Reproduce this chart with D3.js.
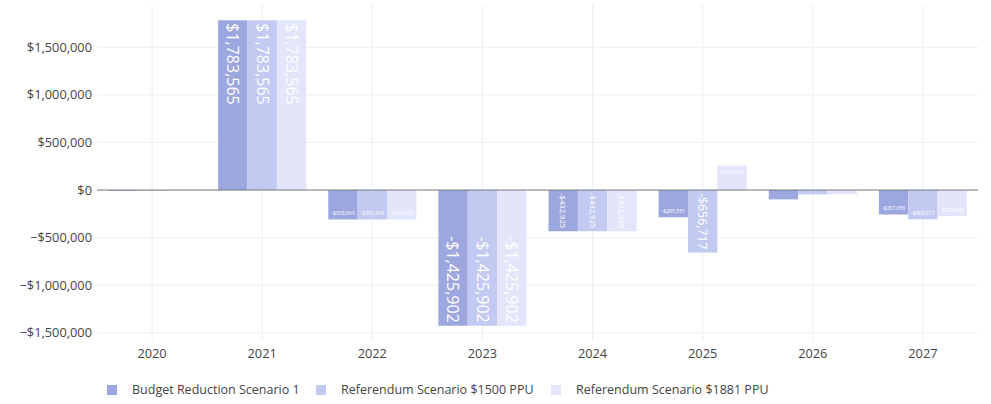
<!DOCTYPE html>
<meta charset="utf-8">
<style>
body { margin: 0; background: #fff; }
text { font-family: "Open Sans", sans-serif; }
.grid line { stroke: #eee; stroke-width: 1; }
</style>
<svg width="991" height="404"></svg>
<script src="https://d3js.org/d3.v7.min.js"></script>
<script>

var years = ["2020", "2021", "2022", "2023", "2024", "2025", "2026", "2027"];
var seriesNames = ["Budget Reduction Scenario 1", "Referendum Scenario $1500 PPU", "Referendum Scenario $1881 PPU"];
var budget1 = [-9000, 1783565, -308963, -1425902, -432925, -285551, -98000, -257058];
var ref1500 = [-8000, 1783565, -308963, -1425902, -432925, -656717, -45000, -308017];
var ref1881 = [-4000, 1783565, -308963, -1425902, -432925, 256979, -45000, -272549];
var yTicks = [-1500000, -1000000, -500000, 0, 500000, 1000000, 1500000];
var colors = ["#9da7df", "#c2caf1", "#e3e6fa"];

var svg = d3.select("svg"),
    plotL = 97, plotR = 978, plotT = 5, plotB = 341;

var x = d3.scaleBand().domain(years).range([plotL, plotR]).padding(0);
var xs = d3.scaleBand().domain(d3.range(3))
    .range([x.bandwidth() * 0.1, x.bandwidth() * 0.9]).padding(0);
var y = d3.scaleLinear().domain([-1586000, 1944000]).range([plotB, plotT]);

var money = function(v) {
  var s = "$" + d3.format(",")(Math.abs(v));
  return v < 0 ? "\u2212" + s : s;
};

// grid
var grid = svg.append("g").attr("class", "grid");
grid.selectAll(".gy").data(yTicks.filter(function(d) { return d != 0; }))
  .enter().append("line")
    .attr("x1", plotL).attr("x2", plotR)
    .attr("y1", function(d) { return y(d); }).attr("y2", function(d) { return y(d); });
grid.selectAll(".gx").data(years)
  .enter().append("line")
    .attr("x1", function(d) { return x(d) + x.bandwidth() / 2; })
    .attr("x2", function(d) { return x(d) + x.bandwidth() / 2; })
    .attr("y1", plotT).attr("y2", plotB);

// y labels
svg.append("g").selectAll("text").data(yTicks)
  .enter().append("text")
    .attr("x", plotL - 5)
    .attr("y", function(d) { return y(d); })
    .attr("dy", "0.35em")
    .attr("text-anchor", "end")
    .attr("font-size", 12.8)
    .attr("fill", "#444")
    .text(money);

// x labels
svg.append("g").selectAll("text").data(years)
  .enter().append("text")
    .attr("x", function(d) { return x(d) + x.bandwidth() / 2; })
    .attr("y", 358)
    .attr("text-anchor", "middle")
    .attr("font-size", 12.8)
    .attr("fill", "#444")
    .text(function(d) { return d; });

var rows = [];
[budget1, ref1500, ref1881].forEach(function(vals, s) {
  vals.forEach(function(v, i) { rows.push({year: years[i], s: s, v: v}); });
});

var bars = svg.append("g");
bars.selectAll("rect").data(rows)
  .enter().append("rect")
    .attr("x", function(d) { return x(d.year) + xs(d.s); })
    .attr("width", xs.bandwidth())
    .attr("y", function(d) { return Math.min(y(d.v), y(0)); })
    .attr("height", function(d) { return Math.abs(y(d.v) - y(0)); })
    .attr("fill", function(d) { return colors[d.s]; });

// zero line
svg.append("line")
    .attr("x1", plotL).attr("x2", plotR)
    .attr("y1", y(0)).attr("y2", y(0))
    .attr("stroke", "#777").attr("stroke-width", 1);

// inside labels, shrunk to fit like plotly
var labels = svg.append("g");
rows.forEach(function(d) {
  var fs = 16, pad = 3;
  var bx = x(d.year) + xs(d.s), bw = xs.bandwidth();
  var bh = Math.abs(y(d.v) - y(0));
  var label = (d.v < 0 ? "-" : "") + "$" + d3.format(",")(Math.abs(d.v));
  var t = labels.append("text")
      .attr("font-size", fs)
      .attr("fill", "#fff")
      .text(label);
  var W = t.node().getComputedTextLength(), H = fs * 1.1;
  var sh = Math.min(1, (bw - 2 * pad) / W, (bh - 2 * pad) / H);
  var sr = Math.min(1, (bh - 2 * pad) / W, (bw - 2 * pad) / H);
  var rot = sr > sh * 1.15;
  var sc = rot ? sr : sh;
  if (sc * fs < 3.5) { t.remove(); return; }
  var cx = bx + bw / 2;
  var yEnd = y(d.v);
  var extent = (rot ? W : H) * sc;
  var cy = d.v >= 0 ? yEnd + pad + extent / 2 : yEnd - pad - extent / 2;
  t.attr("text-anchor", "middle")
    .attr("dy", "0.35em")
    .attr("transform", "translate(" + cx + "," + cy + ")" + (rot ? " rotate(90)" : "") + " scale(" + sc + ")");
});

// legend
var legX = [107, 316, 551];
var leg = svg.append("g").selectAll("g").data(seriesNames)
  .enter().append("g")
    .attr("transform", function(d, i) { return "translate(" + legX[i] + ",390)"; });
leg.append("rect")
    .attr("x", 0).attr("y", -5)
    .attr("width", 10).attr("height", 10)
    .attr("fill", function(d, i) { return colors[i]; });
leg.append("text")
    .attr("x", 25).attr("dy", "0.35em")
    .attr("font-size", 12.5)
    .attr("fill", "#444")
    .text(function(d) { return d; });

</script>
